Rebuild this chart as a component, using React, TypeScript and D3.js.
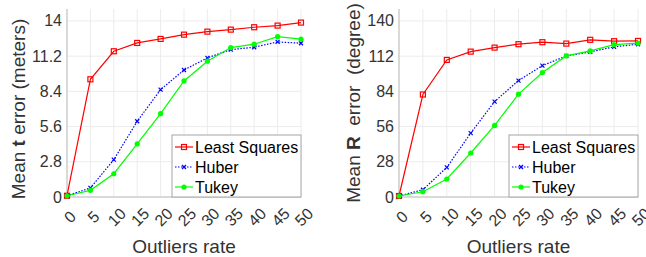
import React, { useEffect, useRef } from 'react';
import * as d3 from 'd3';

const rates = [0, 5, 10, 15, 20, 25, 30, 35, 40, 45, 50];

const tLeastSquares = [0.1, 9.36, 11.59, 12.25, 12.57, 12.91, 13.15, 13.31, 13.5, 13.63, 13.87];
const tHuber = [0.1, 0.72, 2.97, 6.02, 8.54, 10.1, 11.06, 11.72, 11.91, 12.33, 12.23];
const tTukey = [0.1, 0.53, 1.85, 4.22, 6.63, 9.23, 10.8, 11.88, 12.15, 12.75, 12.55];

const rLeastSquares = [0.8, 81.5, 109, 115.6, 118.8, 121.5, 123.1, 122, 125, 123.9, 124.1];
const rHuber = [0.8, 5.8, 23.5, 50.8, 75.9, 92.6, 104.5, 112.2, 115.4, 119.4, 121.5];
const rTukey = [0.8, 4.2, 14.3, 35, 56.9, 81.8, 99, 112.2, 116.2, 121.2, 122.3];

const tTicks = [0, 2.8, 5.6, 8.4, 11.2, 14];
const rTicks = [0, 28, 56, 84, 112, 140];

const seriesNames = ['Least Squares', 'Huber', 'Tukey'];

const FONT = '"Liberation Sans", Arial, sans-serif';

interface PanelSpec {
  left: number;
  right: number;
  top: number;
  bottom: number;
  yMax: number;
  ticks: number[];
  data: number[][];
  labelX: number;
  labelY: number;
  symbol: string;
  unit: string;
  spaced: boolean;
}

const styles = [
  { color: '#ff0000', dash: null as string | null, marker: 'square' },
  { color: '#0000ff', dash: '1.5,1.5', marker: 'x' },
  { color: '#00ff00', dash: null as string | null, marker: 'circle' }
];

function drawMarker(g: d3.Selection<SVGGElement, unknown, null, undefined>, kind: string, x: number, y: number, color: string) {
  if (kind === 'square') {
    g.append('rect')
      .attr('x', x - 2.5).attr('y', y - 2.5)
      .attr('width', 5).attr('height', 5)
      .attr('fill', 'none').attr('stroke', color).attr('stroke-width', 1.2);
  } else if (kind === 'x') {
    g.append('path')
      .attr('d', `M${x - 2},${y - 2}L${x + 2},${y + 2}M${x - 2},${y + 2}L${x + 2},${y - 2}`)
      .attr('stroke', color).attr('stroke-width', 1.2);
  } else {
    g.append('circle').attr('cx', x).attr('cy', y).attr('r', 2.6).attr('fill', color);
  }
}

function drawPanel(svg: d3.Selection<SVGSVGElement, unknown, null, undefined>, p: PanelSpec) {
  const x = d3.scaleLinear().domain([0, 50]).range([p.left, p.right]);
  const y = d3.scaleLinear().domain([0, p.yMax]).range([p.bottom, p.top]);
  const g = svg.append('g');

  // grid
  g.selectAll('.vg').data(rates).enter().append('line')
    .attr('x1', d => x(d)).attr('x2', d => x(d))
    .attr('y1', p.top).attr('y2', p.bottom)
    .attr('stroke', '#ececec').attr('stroke-width', 1);
  g.selectAll('.hg').data(p.ticks).enter().append('line')
    .attr('x1', p.left).attr('x2', p.right)
    .attr('y1', d => y(d)).attr('y2', d => y(d))
    .attr('stroke', '#ececec').attr('stroke-width', 1);

  // axes
  g.append('line').attr('x1', p.left).attr('x2', p.left).attr('y1', p.top).attr('y2', p.bottom)
    .attr('stroke', '#bdbdbd');
  g.append('line').attr('x1', p.left).attr('x2', p.right).attr('y1', p.bottom).attr('y2', p.bottom)
    .attr('stroke', '#bdbdbd');

  // y tick labels
  g.selectAll('.yt').data(p.ticks).enter().append('text')
    .attr('x', p.left - 5).attr('y', d => y(d))
    .attr('text-anchor', 'end').attr('dominant-baseline', 'central')
    .attr('font-size', 16).attr('fill', '#333333')
    .text(d => String(d));

  // x tick labels (rotated)
  g.selectAll('.xt').data(rates).enter().append('text')
    .attr('transform', d => `translate(${x(d) + 3},${p.bottom + 20}) rotate(-45)`)
    .attr('text-anchor', 'middle').attr('dominant-baseline', 'central')
    .attr('font-size', 16).attr('fill', '#333333')
    .text(d => String(d));

  // x label
  g.append('text')
    .attr('x', (p.left + p.right) / 2).attr('y', 246)
    .attr('text-anchor', 'middle').attr('dominant-baseline', 'central')
    .attr('font-size', 19).attr('fill', '#333333')
    .text('Outliers rate');

  // y label
  const yl = g.append('text')
    .attr('transform', `translate(${p.labelX},${p.labelY}) rotate(-90)`)
    .attr('text-anchor', 'middle').attr('dominant-baseline', 'central')
    .attr('font-size', 19).attr('fill', '#333333')
    .attr('xml:space', 'preserve');
  yl.append('tspan').text('Mean ');
  yl.append('tspan').attr('font-weight', 'bold').text(p.symbol);
  yl.append('tspan').text(p.spaced ? '  error  (' + p.unit + ')' : ' error (' + p.unit + ')');

  // lines
  const line = d3.line<number>().x((_, i) => x(rates[i])).y(d => y(d));
  p.data.forEach((vals, si) => {
    const st = styles[si];
    g.append('path').attr('d', line(vals) || '')
      .attr('fill', 'none').attr('stroke', st.color).attr('stroke-width', 1.2)
      .attr('stroke-dasharray', st.dash);
    vals.forEach((v, i) => drawMarker(g, st.marker, x(rates[i]), y(v), st.color));
  });

  // legend
  const lw = 129;
  const lh = 62;
  const lx = p.right - lw;
  const ly = p.bottom - lh;
  g.append('rect').attr('x', lx).attr('y', ly).attr('width', lw).attr('height', lh)
    .attr('fill', '#ffffff').attr('stroke', '#a6a6a6').attr('stroke-width', 1);
  seriesNames.forEach((name, i) => {
    const st = styles[i];
    const ry = ly + 12 + i * 20;
    g.append('line').attr('x1', lx + 3).attr('x2', lx + 21).attr('y1', ry).attr('y2', ry)
      .attr('stroke', st.color).attr('stroke-width', 1.2).attr('stroke-dasharray', st.dash);
    drawMarker(g, st.marker, lx + 12, ry, st.color);
    g.append('text').attr('x', lx + 23).attr('y', ry)
      .attr('dominant-baseline', 'central').attr('font-size', 16).attr('fill', '#000000')
      .text(name);
  });
}

export default function App() {
  const ref = useRef<SVGSVGElement>(null);

  useEffect(() => {
    if (!ref.current) return;
    const svg = d3.select(ref.current);
    svg.selectAll('*').remove();

    drawPanel(svg, {
      left: 67, right: 301, top: 9, bottom: 197, yMax: 14.95,
      ticks: tTicks, data: [tLeastSquares, tHuber, tTukey],
      labelX: 18, labelY: 109, symbol: 't', unit: 'meters', spaced: false
    });
    drawPanel(svg, {
      left: 399, right: 638, top: 9, bottom: 197, yMax: 149.5,
      ticks: rTicks, data: [rLeastSquares, rHuber, rTukey],
      labelX: 353, labelY: 103, symbol: 'R', unit: 'degree', spaced: true
    });
  }, []);

  return (
    <div style={{ position: 'absolute', left: 0, top: 0 }}>
      <svg ref={ref} width={646} height={257} style={{ display: 'block', fontFamily: FONT, background: '#ffffff' }} />
    </div>
  );
}
